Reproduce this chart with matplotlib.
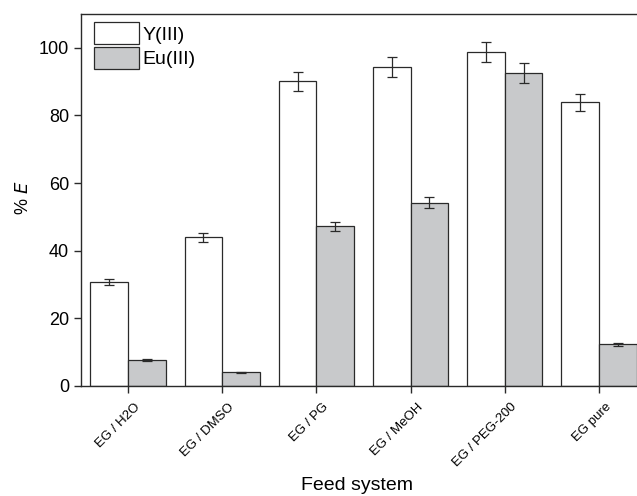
import matplotlib
matplotlib.use("Agg")
import matplotlib.pyplot as plt
import matplotlib.transforms as mtransforms
import numpy as np

plt.rcParams['font.family'] = ['Liberation Sans', 'DejaVu Sans']

categories = ["EG / H2O", "EG / DMSO", "EG / PG", "EG / MeOH", "EG / PEG-200", "EG pure"]
y_vals = [30.8, 44.0, 90.1, 94.4, 98.8, 83.9]
y_err = [0.9, 1.3, 2.8, 3.0, 3.0, 2.5]
eu_vals = [7.8, 4.0, 47.2, 54.2, 92.5, 12.3]
eu_err = [0.3, 0.2, 1.4, 1.7, 2.9, 0.4]
yticks = [0, 20, 40, 60, 80, 100]

fig = plt.figure(figsize=(6.37, 4.96), dpi=100)
ax = fig.add_axes([81/637, 1 - 386/496, (646 - 81)/637, (386 - 14)/496])

x = np.arange(len(categories))
w = 0.4
edge = '#2a2a2a'
ax.bar(x - w/2, y_vals, w, color='white', edgecolor=edge, linewidth=0.9,
       label='Y(III)', zorder=2)
ax.bar(x + w/2, eu_vals, w, color='#c8c9cb', edgecolor=edge, linewidth=0.9,
       label='Eu(III)', zorder=2)
ax.errorbar(x - w/2, y_vals, yerr=y_err, fmt='none', ecolor=edge,
            elinewidth=0.9, capsize=3.5, capthick=0.9, zorder=3)
ax.errorbar(x + w/2, eu_vals, yerr=eu_err, fmt='none', ecolor=edge,
            elinewidth=0.9, capsize=3.5, capthick=0.9, zorder=3)

ax.set_xlim(-0.5, len(categories) - 0.5)
ax.set_ylim(0, 110)
ax.set_yticks(yticks)
ax.set_yticklabels([str(t) for t in yticks], fontsize=13)
ax.set_xticks(x)
ax.set_xticklabels(categories, rotation=45, ha='right', rotation_mode='anchor',
                   fontsize=9.5)
ax.tick_params(axis='both', direction='out', length=5, width=1, color=edge)
ax.tick_params(axis='x', pad=6)

# nudge the rotated category labels a little to the right
shift = mtransforms.ScaledTranslation(6/100, 0, fig.dpi_scale_trans)
for lbl in ax.get_xticklabels():
    lbl.set_transform(lbl.get_transform() + shift)

for side in ['left', 'top', 'bottom']:
    ax.spines[side].set_color(edge)
    ax.spines[side].set_linewidth(1.0)
ax.spines['right'].set_visible(False)

ax.set_ylabel('% $\\it{E}$', fontsize=13)
ax.yaxis.set_label_coords(-0.087, 0.505)
ax.set_xlabel('Feed system', fontsize=14)
ax.xaxis.set_label_coords(0.488, -0.245)

leg = ax.legend(loc='upper left', bbox_to_anchor=(0.0177, 0.985),
                frameon=False, fontsize=14,
                handlelength=2.3, handleheight=1.33, handletextpad=0.2,
                borderaxespad=0.0, borderpad=0.15, labelspacing=0.15)

fig.savefig('out.png', dpi=100)
